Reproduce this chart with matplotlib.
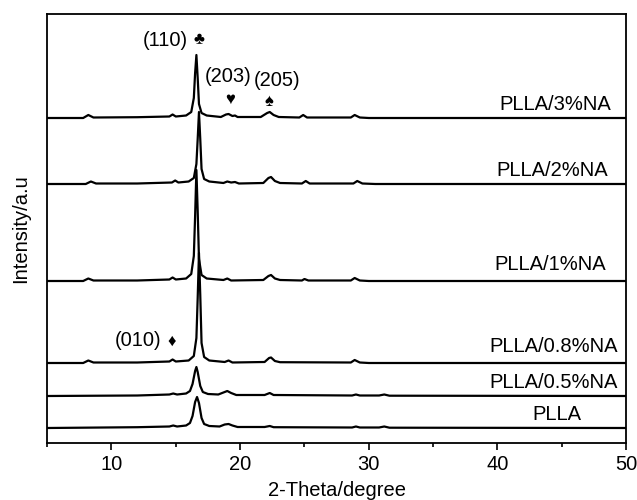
import matplotlib
matplotlib.use('Agg')
import matplotlib.pyplot as plt
from matplotlib.ticker import MultipleLocator

plt.rcParams['font.family'] = ['Liberation Sans', 'DejaVu Sans']

# XRD 패턴 (2theta, 강도) - 그림에서 읽은 값
x_3 = [5, 7.8, 8.2, 8.6, 12.0, 14.5, 14.75, 15.0, 15.8, 16.2, 16.4, 16.5, 16.6, 16.7, 16.8, 17.0, 17.4,
       18.5, 18.9, 19.1, 19.4, 19.6, 19.8, 21.6, 22.1, 22.3, 22.6, 23.0, 24.6, 24.9, 25.2, 28.6, 28.9, 29.3, 30.0, 50]
y_3 = [0, 0, 3, 0.5, 0.8, 1.5, 3.5, 1.5, 2.5, 6, 20, 45, 63, 40, 14, 5, 2.5,
       1, 3.5, 4, 2, 2.5, 1, 1, 5, 6, 3, 1, 0.5, 3, 0.5, 0.5, 3, 0.5, 0, 0]

x_2 = [5, 8.0, 8.4, 8.8, 12, 14.7, 14.95, 15.2, 16.0, 16.4, 16.6, 16.7, 16.8, 16.9, 17.0, 17.2, 17.6,
       18.7, 19.0, 19.3, 19.6, 19.9, 21.8, 22.2, 22.4, 22.7, 23.1, 24.8, 25.1, 25.4, 28.8, 29.1, 29.5, 30.5, 50]
y_2 = [0, 0, 2.5, 0.5, 0.5, 1.5, 3.5, 1.5, 2.5, 6, 20, 45, 72, 45, 15, 5, 2.5,
       1, 2.5, 1.5, 2, 0.5, 1, 6, 7, 3, 1, 0.5, 3, 0.5, 0.5, 3, 0.5, 0, 0]

x_1 = [5, 7.8, 8.2, 8.6, 12, 14.5, 14.75, 15.0, 15.8, 16.2, 16.4, 16.5, 16.6, 16.7, 16.8, 17.0, 17.4,
       18.7, 19.0, 19.3, 21.8, 22.2, 22.4, 22.7, 23.1, 24.8, 25.0, 25.3, 28.6, 28.9, 29.3, 30, 50]
y_1 = [0, 0, 2.5, 0.5, 0.5, 1.5, 3.5, 1.5, 2.5, 7, 25, 65, 111, 70, 22, 6, 2.5,
       1, 2.5, 0.5, 1, 5, 6, 2.5, 1, 0.5, 2, 0.5, 0.5, 3, 0.5, 0, 0]

x_08 = [5, 7.8, 8.2, 8.6, 12, 14.5, 14.75, 15.0, 16.0, 16.4, 16.6, 16.7, 16.8, 16.9, 17.0, 17.2, 17.6,
        18.8, 19.1, 19.4, 21.9, 22.25, 22.4, 22.7, 23.1, 28.6, 28.9, 29.3, 30, 50]
y_08 = [0, 0, 2.5, 0.5, 0.5, 1.5, 3.5, 1.5, 2.5, 7, 25, 65, 110, 68, 20, 6, 2.5,
        1, 2.5, 0.5, 1, 5, 5.5, 2, 0.8, 0.5, 3, 0.5, 0, 0]

x_05 = [5, 12, 14.5, 14.8, 15.1, 15.8, 16.1, 16.3, 16.5, 16.6, 16.7, 16.9, 17.1, 17.5, 18.3, 18.8,
        19.0, 19.3, 19.7, 21.9, 22.3, 22.6, 28.7, 29.0, 29.3, 30.8, 31.2, 31.6, 50]
y_05 = [0, 0.5, 1.5, 2.5, 1.5, 2.5, 5, 12, 25, 29, 24, 10, 4, 2, 1.5, 4,
        5, 3, 1, 1, 3, 1, 0.5, 1.5, 0.5, 0.5, 1.5, 0.3, 0]

x_0 = [5, 12, 14.5, 14.8, 15.1, 15.8, 16.1, 16.3, 16.5, 16.65, 16.8, 17.0, 17.2, 17.6, 18.4, 18.8,
       19.1, 19.4, 19.8, 21.9, 22.3, 22.6, 28.7, 29.0, 29.3, 30.8, 31.2, 31.6, 50]
y_0 = [0, 0.8, 1.5, 2.5, 1.5, 2.5, 5, 12, 26, 31, 25, 10, 4, 2, 1.5, 3.5,
       4, 2.5, 1, 1, 2, 0.8, 0.5, 1.5, 0.5, 0.5, 1.5, 0.3, 0]

series = [(x_0, y_0), (x_05, y_05), (x_08, y_08), (x_1, y_1), (x_2, y_2), (x_3, y_3)]
names = ['PLLA', 'PLLA/0.5%NA', 'PLLA/0.8%NA', 'PLLA/1%NA', 'PLLA/2%NA', 'PLLA/3%NA']
offsets = [15, 47, 80, 162, 259, 325]

fig = plt.figure(figsize=(6.37, 5.00), dpi=100)
ax = fig.add_axes([0.074, 0.114, 0.909, 0.858])

for (xs, ys), off in zip(series, offsets):
    ax.plot(xs, [v + off for v in ys], color='black', lw=1.6)

# 곡선 이름 (오른쪽 정렬)
label_pos = [(46.5, 29), (49.35, 61), (49.35, 96), (48.4, 178), (48.55, 273), (48.8, 339)]
fs = 14.5
for name, (lx, ly) in zip(names, label_pos):
    ax.text(lx, ly, name, ha='right', va='center', fontsize=fs)

# 피크 표시
ax.text(15.95, 403, '(110)', ha='right', va='center', fontsize=fs)
ax.text(16.8, 403, '\u2663', ha='center', va='center', fontsize=12)
ax.text(19.05, 367, '(203)', ha='center', va='center', fontsize=fs)
ax.text(19.2, 344, '\u2665', ha='center', va='center', fontsize=12)
ax.text(22.9, 362, '(205)', ha='center', va='center', fontsize=fs)
ax.text(22.2, 341, '\u2660', ha='center', va='center', fontsize=12)
ax.text(13.9, 102, '(010)', ha='right', va='center', fontsize=fs)
ax.text(14.7, 102, '\u2666', ha='center', va='center', fontsize=12)

ax.set_xlim(5, 50)
ax.set_ylim(0, 429)
ax.xaxis.set_major_locator(MultipleLocator(10))
ax.xaxis.set_minor_locator(MultipleLocator(5))
ax.tick_params(axis='x', which='major', direction='out', length=5, width=1.2, labelsize=fs)
ax.tick_params(axis='x', which='minor', direction='out', length=3, width=1.2)
ax.set_yticks([])
for s in ax.spines.values():
    s.set_linewidth(1.3)

ax.set_xlabel('2-Theta/degree', fontsize=fs, labelpad=5)
ax.set_ylabel('Intensity/a.u', fontsize=fs, labelpad=12)

fig.savefig('out.png', dpi=100)
